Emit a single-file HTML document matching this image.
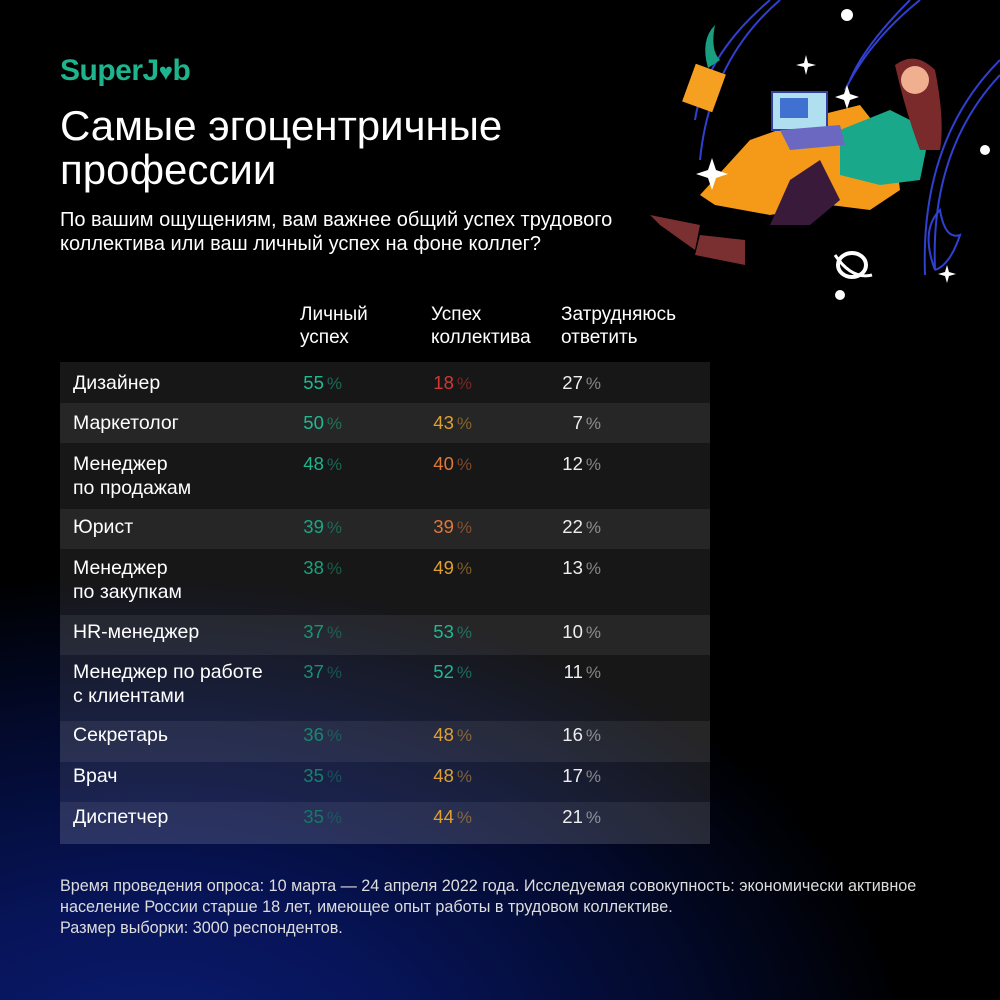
<!DOCTYPE html>
<html><head><meta charset="utf-8"><style>
*{margin:0;padding:0}
body{width:1000px;height:1000px;overflow:hidden;position:relative;font-family:"Liberation Sans","Noto Sans CJK SC",sans-serif;color:#fff;
background:radial-gradient(ellipse 900px 600px at 15% 108%,#0c1c74 0%,#071458 30%,#030a2c 60%,#000 85%)}
.a{position:absolute;white-space:nowrap}
.row{position:absolute;left:60px;width:650px}
.l{position:absolute;left:73px;font-size:19.5px;line-height:24px}
.n{position:absolute;font-size:18.5px;line-height:24px;text-align:right;width:60px}
.n span{opacity:.5;font-size:17px;margin-left:3px}
.g{color:#1fb890}.o{color:#e0a030}.r{color:#d03838}.w{color:#eee}.oo{color:#e07838}
</style></head><body>
<div class="a" style="left:60px;top:54px;font-size:30px;font-weight:bold;color:#1db48e;letter-spacing:-0.5px">SuperJ<span style="font-size:24px">♥</span>b</div>
<div class="a" style="left:60px;top:104px;font-size:42px;line-height:44px">Самые эгоцентричные<br>профессии</div>
<div class="a" style="left:60px;top:208px;font-size:20px;line-height:24px">По вашим ощущениям, вам важнее общий успех трудового<br>коллектива или ваш личный успех на фоне коллег?</div>
<div class="a" style="left:300px;top:303px;font-size:19px;line-height:23px">Личный<br>успех</div>
<div class="a" style="left:431px;top:303px;font-size:19px;line-height:23px">Успех<br>коллектива</div>
<div class="a" style="left:561px;top:303px;font-size:19px;line-height:23px">Затрудняюсь<br>ответить</div>

<div class="row" style="top:362px;height:41px;background:rgba(255,255,255,.09)"></div>
<div class="row" style="top:403px;height:40px;background:rgba(255,255,255,.15)"></div>
<div class="row" style="top:443px;height:66px;background:rgba(255,255,255,.09)"></div>
<div class="row" style="top:509px;height:40px;background:rgba(255,255,255,.15)"></div>
<div class="row" style="top:549px;height:66px;background:rgba(255,255,255,.09)"></div>
<div class="row" style="top:615px;height:40px;background:rgba(255,255,255,.15)"></div>
<div class="row" style="top:655px;height:66px;background:rgba(255,255,255,.09)"></div>
<div class="row" style="top:721px;height:41px;background:rgba(255,255,255,.15)"></div>
<div class="row" style="top:762px;height:40px;background:rgba(255,255,255,.09)"></div>
<div class="row" style="top:802px;height:42px;background:rgba(255,255,255,.15)"></div>

<div id="t"></div>
<script>
var rows=[[371,"Дизайнер",55,18,27,"r"],[411,"Маркетолог",50,43,7,"o"],[452,"Менеджер<br>по продажам",48,40,12,"oo"],[515,"Юрист",39,39,22,"oo"],[556,"Менеджер<br>по закупкам",38,49,13,"o"],[620,"HR-менеджер",37,53,10,"g"],[660,"Менеджер по работе<br>с клиентами",37,52,11,"g"],[723,"Секретарь",36,48,16,"o"],[764,"Врач",35,48,17,"o"],[805,"Диспетчер",35,44,21,"o"]];
var greens=["#1fbb92","#1fb890","#1db58d","#1aa884","#19a07e","#179576","#178f72","#168a6e","#15826a","#147a64"];
var h="";
rows.forEach(function(r,i){
h+='<div class="l a" style="top:'+r[0]+'px">'+r[1]+'</div>';
h+='<div class="n a" style="top:'+r[0]+'px;left:282px;color:'+greens[i]+'">'+r[2]+'<span>%</span></div>';
h+='<div class="n a '+r[5]+'" style="top:'+r[0]+'px;left:412px">'+r[3]+'<span>%</span></div>';
h+='<div class="n a w" style="top:'+r[0]+'px;left:541px">'+r[4]+'<span>%</span></div>';
});
document.getElementById("t").innerHTML=h;
</script>
<div class="a" style="left:60px;top:876px;font-size:16.2px;line-height:21px;color:#ddd">Время проведения опроса: 10 марта — 24 апреля 2022 года. Исследуемая совокупность: экономически активное<br>население России старше 18 лет, имеющее опыт работы в трудовом коллективе.<br>Размер выборки: 3000 респондентов.</div>

<svg class="a" style="left:640px;top:0" width="360" height="300" viewBox="0 0 360 300">
<g fill="none" stroke="#3040d0" stroke-width="2">
<path d="M140 0 Q70 60 60 160"/><path d="M130 0 Q65 55 55 120"/>
<path d="M280 0 Q230 40 205 90"/><path d="M270 0 Q225 45 210 80"/>
<path d="M360 60 Q280 140 285 275"/><path d="M360 75 Q290 150 295 270"/>
<path d="M295 270 Q280 230 300 210 Q305 240 320 235 Q310 265 295 270"/>
</g>
<rect x="48" y="68" width="32" height="40" fill="#f5a020" transform="rotate(20 64 88)"/>
<path d="M68 68 Q60 40 75 25 Q70 50 80 60Z" fill="#1a9e80"/>
<path d="M180 115 L220 105 L255 150 L260 190 L230 210 L190 205 L130 215 L75 205 L60 195 L110 140Z" fill="#f59a18"/>
<path d="M150 180 L180 160 L200 200 L170 225 L130 225Z" fill="#3a1a3a"/>
<path d="M200 130 L250 110 L290 130 L280 180 L240 185 L200 175Z" fill="#1aa88a"/>
<path d="M255 65 Q275 50 295 70 Q305 120 300 150 L280 150 Q265 110 255 65Z" fill="#7a2a2a"/>
<circle cx="275" cy="80" r="14" fill="#f0b090"/>
<rect x="132" y="92" width="55" height="38" fill="#b0e0f0" stroke="#3040a0" stroke-width="2"/>
<rect x="140" y="98" width="28" height="20" fill="#4070d0"/>
<path d="M140 130 L200 125 L205 145 L150 150Z" fill="#6a68c0"/>
<path d="M10 215 L60 225 L55 250 L20 225Z" fill="#7a3030"/><path d="M60 235 L105 240 L105 265 L55 255Z" fill="#7a3030"/>
<g fill="#fff"><circle cx="207" cy="15" r="6"/><circle cx="345" cy="150" r="5"/><circle cx="200" cy="295" r="5"/>
<path d="M72 158 l4 12 12 4 -12 4 -4 12 -4 -12 -12 -4 12 -4z"/><path d="M207 85 l3 9 9 3 -9 3 -3 9 -3 -9 -9 -3 9 -3z"/><path d="M166 55 l2 8 8 2 -8 2 -2 8 -2 -8 -8 -2 8 -2z"/><path d="M307 265 l2 7 7 2 -7 2 -2 7 -2 -7 -7 -2 7 -2z"/></g>
<ellipse cx="212" cy="265" rx="14" ry="12" fill="none" stroke="#fff" stroke-width="4"/>
<path d="M195 255 Q212 280 232 275" fill="none" stroke="#fff" stroke-width="3"/>
</svg>
</body></html>
